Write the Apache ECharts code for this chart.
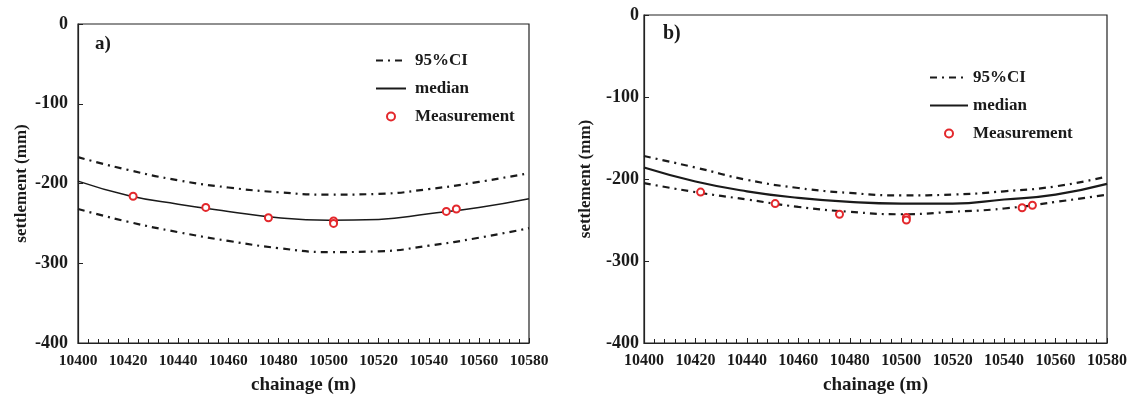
<!DOCTYPE html>
<html>
<head>
<meta charset="utf-8">
<script src="https://cdn.jsdelivr.net/npm/echarts@6/dist/echarts.min.js"></script>
<style>
html,body{margin:0;padding:0;background:#fff;}
#chart{width:1133px;height:400px;}
</style>
</head>
<body>
<div id="chart"></div>
<script>
// chainage (m) sampled every 20 m
var chainage = [10400,10420,10440,10460,10480,10500,10520,10540,10560,10580];
// panel a)
var aUpper  = [-167,-183,-196,-205,-211,-214,-213,-207,-198,-187];
var aMedian = [-197,-215,-226,-235,-243,-246,-245,-238,-230,-219];
var aLower  = [-232,-248,-261,-272,-281,-286,-285,-278,-268,-256];
// panel b)
var bUpper  = [-172,-186,-201,-211,-217,-220,-219,-215,-209,-197];
var bMedian = [-186,-203,-215,-223,-228,-230,-230,-225,-219,-206];
var bLower  = [-205,-216,-225,-234,-240,-243,-240,-236,-228,-219];
// measurements
var measX = [10422,10451,10476,10502,10502,10547,10551];
var measY = [-216,-230,-243,-247,-250,-235,-232];
var yTicks = [0,-100,-200,-300,-400];

function pairs(xs, ys){ return xs.map(function(x,i){ return [x, ys[i]]; }); }

var FONT = '"Liberation Serif", "Times New Roman", serif';
var INK = '#1a1a1a';
var RED = '#e3282c';
var DASHDOT = [7,5,2,5];

function xAxis(idx, fs){
  return {
    gridIndex: idx, type:'value', min:10400, max:10580, interval:20,
    name:'chainage (m)', nameLocation:'middle', nameGap:33,
    nameTextStyle:{fontFamily:FONT, fontWeight:'bold', fontSize:19, color:INK},
    axisLine:{show:true, onZero:false, lineStyle:{color:'#222', width:1.2}},
    axisTick:{show:true, inside:true, length:5, lineStyle:{color:'#222'}},
    minorTick:{show:true, splitNumber:5, length:4, lineStyle:{color:'#222'}},
    axisLabel:{margin:10, fontFamily:FONT, fontWeight:'bold', fontSize:fs, color:INK,
      formatter:function(v){ return String(v); }},
    splitLine:{show:false}
  };
}
function yAxis(idx, margin, gap){
  return {
    gridIndex: idx, type:'value', min:-400, max:0, interval:100,
    name:'settlement (mm)', nameLocation:'middle', nameGap:gap, nameRotate:90,
    nameTextStyle:{fontFamily:FONT, fontWeight:'bold', fontSize:17, color:INK},
    axisLine:{show:true, onZero:false, lineStyle:{color:'#222', width:1.2}},
    axisTick:{show:true, inside:true, length:5, lineStyle:{color:'#222'}},
    axisLabel:{margin:margin, fontFamily:FONT, fontWeight:'bold', fontSize:18, color:INK,
      formatter:function(v){ return yTicks.indexOf(v) >= 0 ? String(v) : ''; }},
    splitLine:{show:false}
  };
}
function lineSeries(name, idx, data, type, width){
  return {
    name:name, type:'line', xAxisIndex:idx, yAxisIndex:idx,
    data:pairs(chainage, data), smooth:true, symbol:'none', showSymbol:false,
    lineStyle:{color:INK, width:width, type:type}, itemStyle:{color:INK},
    silent:true, z:2
  };
}
function measSeries(idx){
  return {
    name:'Measurement', type:'scatter', xAxisIndex:idx, yAxisIndex:idx,
    data:pairs(measX, measY), symbol:'emptyCircle', symbolSize:7,
    itemStyle:{color:RED, borderWidth:1.5, opacity:1}, z:5
  };
}
var HIDDEN = {color:'rgba(0,0,0,0)', borderColor:'rgba(0,0,0,0)', borderWidth:0, opacity:0};
function legend(left, top, iw, pad){
  return {
    left:left, top:top, orient:'vertical', padding:0,
    itemWidth:iw, itemHeight:8, itemGap:11,
    data:[
      {name:'95%CI', itemStyle:HIDDEN},
      {name:'median', itemStyle:HIDDEN},
      {name:'Measurement', icon:'emptyCircle'}
    ],
    textStyle:{fontFamily:FONT, fontWeight:'bold', fontSize:17, color:INK, lineHeight:16, padding:[0,0,0,pad]},
    selectedMode:false
  };
}

var chart = echarts.init(document.getElementById('chart'), null, {renderer:'canvas'});
chart.setOption({
  animation:false,
  backgroundColor:'#fff',
  grid:[
    {left:78, top:24, width:451, height:321, show:true, borderColor:'#222', borderWidth:1.2, backgroundColor:'transparent'},
    {left:644, top:15, width:463, height:329, show:true, borderColor:'#222', borderWidth:1.2, backgroundColor:'transparent'}
  ],
  xAxis:[ xAxis(0,15.5), xAxis(1,16) ],
  yAxis:[ yAxis(0,10,48), yAxis(1,5,50) ],
  legend:[ legend(375,52,30,4), legend(929,69,38,0) ],
  graphic:[
    {type:'text', left:95, top:35, style:{text:'a)', font:'bold 19px ' + FONT, fill:INK}},
    {type:'text', left:663, top:24, style:{text:'b)', font:'bold 20px ' + FONT, fill:INK}}
  ],
  series:[
    lineSeries('95%CI',0,aUpper,DASHDOT,2.2),
    lineSeries('95%CI',0,aLower,DASHDOT,2.2),
    lineSeries('median',0,aMedian,'solid',1.5),
    measSeries(0),
    lineSeries('95%CI',1,bUpper,DASHDOT,2.2),
    lineSeries('95%CI',1,bLower,DASHDOT,2.2),
    lineSeries('median',1,bMedian,'solid',2.2),
    measSeries(1)
  ]
});
</script>
</body>
</html>
